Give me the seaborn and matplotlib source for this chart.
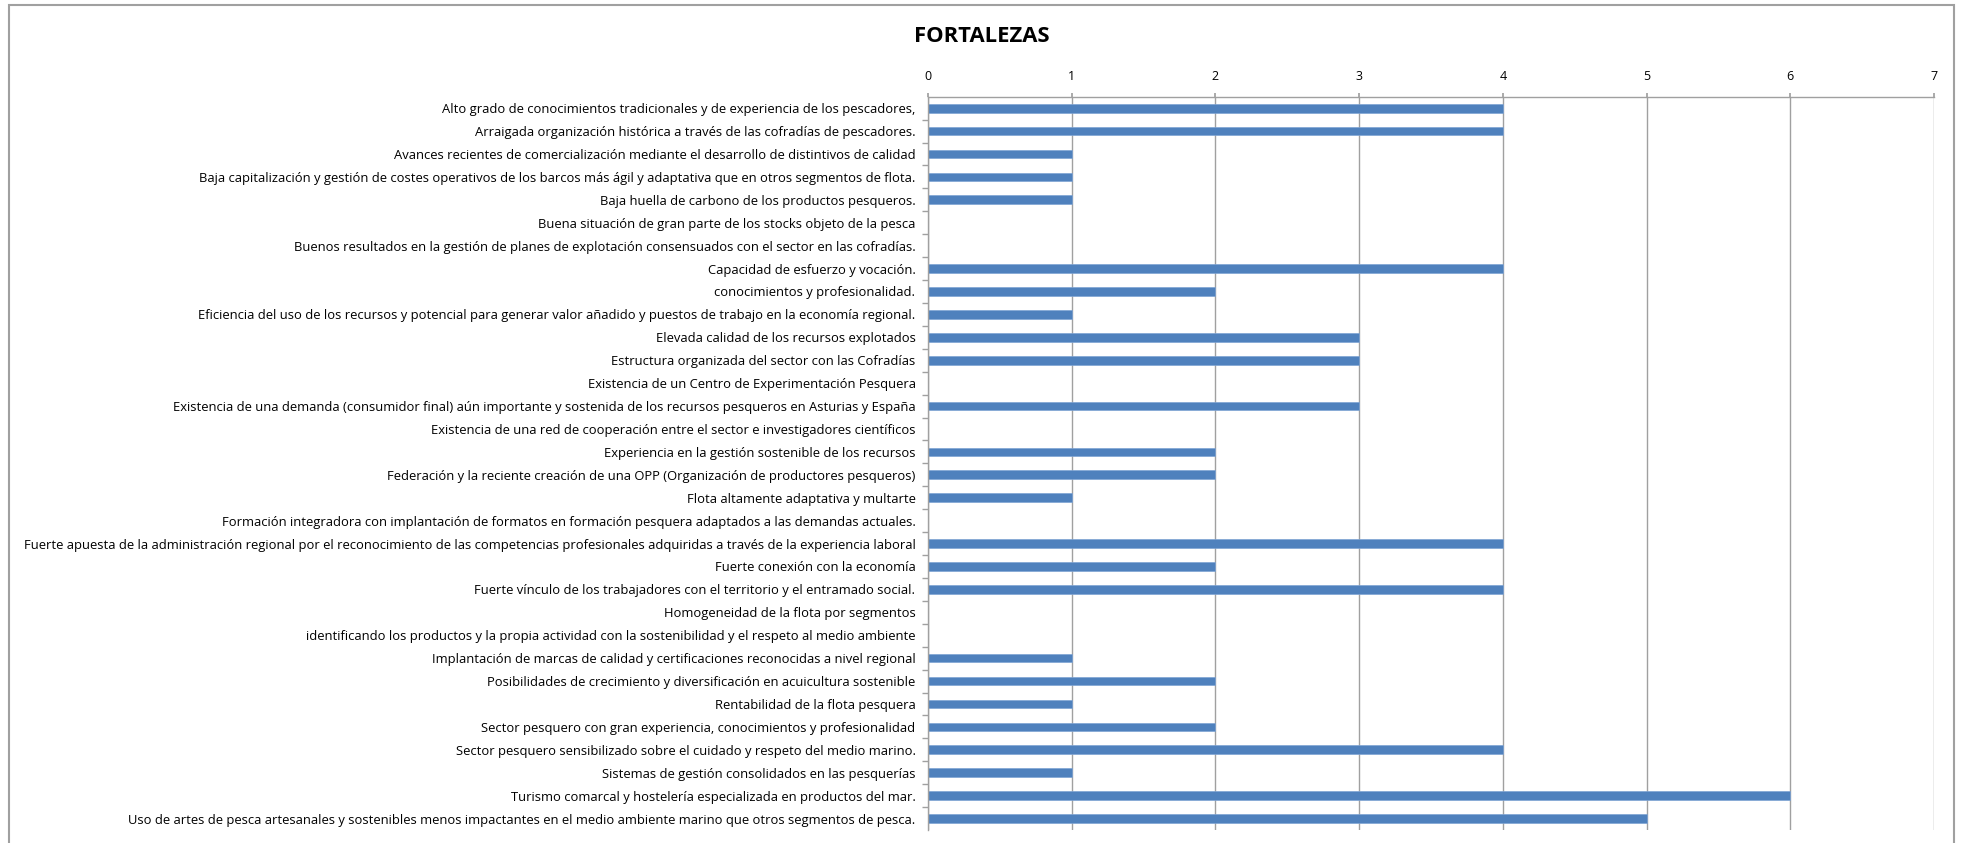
import matplotlib
matplotlib.use("Agg")
import matplotlib.pyplot as plt
import seaborn as sns
import pandas as pd
import numpy as np
from matplotlib.patches import Rectangle

categories = [
    "Alto grado de conocimientos tradicionales y de experiencia de los pescadores,",
    "Arraigada organización histórica a través de las cofradías de pescadores.",
    "Avances recientes de comercialización mediante el desarrollo de distintivos de calidad",
    "Baja capitalización y gestión de costes operativos de los barcos más ágil y adaptativa que en otros segmentos de flota.",
    "Baja huella de carbono de los productos pesqueros.",
    "Buena situación de gran parte de los stocks objeto de la pesca",
    "Buenos resultados en la gestión de planes de explotación consensuados con el sector en las cofradías.",
    "Capacidad de esfuerzo y vocación.",
    "conocimientos y profesionalidad.",
    "Eficiencia del uso de los recursos y potencial para generar valor añadido y puestos de trabajo en la economía regional.",
    "Elevada calidad de los recursos explotados",
    "Estructura organizada del sector con las Cofradías",
    "Existencia de un Centro de Experimentación Pesquera",
    "Existencia de una demanda (consumidor final) aún importante y sostenida de los recursos pesqueros en Asturias y España",
    "Existencia de una red de cooperación entre el sector e investigadores científicos",
    "Experiencia en la gestión sostenible de los recursos",
    "Federación y la reciente creación de una OPP (Organización de productores pesqueros)",
    "Flota altamente adaptativa y multarte",
    "Formación integradora con implantación de formatos en formación pesquera adaptados a las demandas actuales.",
    "Fuerte apuesta de la administración regional por el reconocimiento de las competencias profesionales adquiridas a través de la experiencia laboral",
    "Fuerte conexión con la economía",
    "Fuerte vínculo de los trabajadores con el territorio y el entramado social.",
    "Homogeneidad de la flota por segmentos",
    "identificando los productos y la propia actividad con la sostenibilidad y el respeto al medio ambiente",
    "Implantación de marcas de calidad y certificaciones reconocidas a nivel regional",
    "Posibilidades de crecimiento y diversificación en acuicultura sostenible",
    "Rentabilidad de la flota pesquera",
    "Sector pesquero con gran experiencia, conocimientos y profesionalidad",
    "Sector pesquero sensibilizado sobre el cuidado y respeto del medio marino.",
    "Sistemas de gestión consolidados en las pesquerías",
    "Turismo comarcal y hostelería especializada en productos del mar.",
    "Uso de artes de pesca artesanales y sostenibles menos impactantes en el medio ambiente marino que otros segmentos de pesca.",
]
values = [4, 4, 1, 1, 1, 0, 0, 4, 2, 1, 3, 3, 0, 3, 0, 2, 2, 1, 0, 4, 2, 4, 0, 0, 1, 2, 1, 2, 4, 1, 6, 5]
x_ticks = [0, 1, 2, 3, 4, 5, 6, 7]
title = "FORTALEZAS"

sns.set_theme(style="white")
plt.rcParams['font.family'] = ['Open Sans', 'DejaVu Sans']

df = pd.DataFrame({"cat": categories, "val": values})

W, H = 1964, 843
fig = plt.figure(figsize=(W / 100, H / 100), dpi=100)
ax = fig.add_axes([928 / W, 1 - 830 / H, (1934 - 928) / W, (830 - 96.7) / H])

sns.barplot(data=df, y="cat", x="val", orient="h", color="#4F81BD",
            saturation=1, width=0.38, ax=ax, edgecolor="#7FA4D3", linewidth=0.5)

grid_c = "#a0a0a0"
ax.set_xlim(0, 7)
ax.set_xticks(x_ticks)
ax.xaxis.tick_top()
ax.xaxis.set_label_position("top")
ax.set_xlabel("")
ax.set_ylabel("")
ax.grid(axis="x", color=grid_c, linewidth=1.0)
ax.grid(axis="y", visible=False)
ax.set_axisbelow(True)
ax.tick_params(axis="x", top=True, bottom=False, length=3, color=grid_c,
               labelsize=9, pad=7, labelcolor="#000000")
ax.tick_params(axis="y", which="major", length=0, labelsize=9.35, pad=9,
               labelcolor="#000000")
n = len(categories)
ax.set_yticks(np.arange(n - 1) + 0.5, minor=True)
ax.tick_params(axis="y", which="minor", length=4, color=grid_c, left=True)
for s in ["right", "bottom"]:
    ax.spines[s].set_visible(False)
for s in ["top", "left"]:
    ax.spines[s].set_color(grid_c)
    ax.spines[s].set_linewidth(1.0)

fig.text(982 / W, 1 - 37 / H, title, ha="center", va="center",
         fontsize=15.8, fontweight="bold", color="#000000")

fig.patches.append(Rectangle((9 / W, -0.01), (1954 - 9) / W, 1.01 - 5 / H,
                             transform=fig.transFigure, fill=False,
                             edgecolor="#a0a0a0", linewidth=1.5))

fig.savefig("out.png", dpi=100, facecolor="white")
